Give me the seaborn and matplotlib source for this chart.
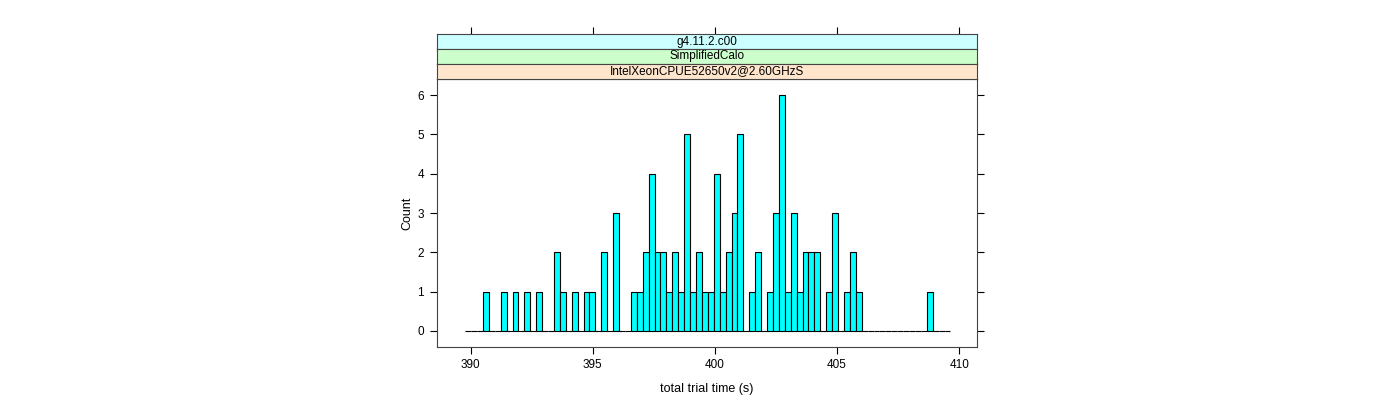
import numpy as np
import pandas as pd
import matplotlib
matplotlib.use("Agg")
import matplotlib.pyplot as plt
import seaborn as sns

# bar positions (s), with their counts
trial_times = [390.62, 391.35, 391.83, 392.32, 392.80, 393.53, 393.77, 394.26,
               394.74, 394.99, 395.47, 395.95, 396.68, 396.92, 397.17, 397.41,
               397.65, 397.89, 398.14, 398.38, 398.62, 398.86, 399.10, 399.35,
               399.59, 399.83, 400.07, 400.32, 400.56, 400.80, 401.04, 401.53,
               401.77, 402.25, 402.50, 402.74, 402.98, 403.22, 403.47, 403.71,
               403.95, 404.19, 404.68, 404.92, 405.40, 405.65, 405.89, 408.80]
trial_counts = [1, 1, 1, 1, 1, 2, 1, 1,
                1, 1, 2, 3, 1, 1, 2, 4,
                2, 2, 1, 2, 1, 5, 1, 2,
                1, 1, 4, 1, 2, 3, 5, 1,
                2, 1, 3, 6, 1, 3, 1, 2,
                2, 2, 1, 3, 1, 2, 1, 1]
bin_lo, bin_hi, n_bins = 389.775, 409.644, 82

strip_labels = ["g4.11.2.c00", "SimplifiedCalo", "IntelXeonCPUE52650v2@2.60GHzS"]
strip_colors = ["#ccffff", "#ccffcc", "#ffe5cc"]

sns.set_style("white")
plt.rcParams['font.family'] = ['Liberation Sans', 'DejaVu Sans']
plt.rcParams['text.color'] = 'black'
plt.rcParams['axes.labelcolor'] = 'black'

W, H = 1400, 400
fig = plt.figure(figsize=(14, 4), dpi=100)

left, right = 436.5, 977
top, bottom = 79, 347
ax = fig.add_axes([left / W, (H - bottom) / H, (right - left) / W, (bottom - top) / H])

df = pd.DataFrame({"time": trial_times, "n": trial_counts})
sns.histplot(data=df, x="time", weights="n", bins=n_bins, binrange=(bin_lo, bin_hi),
             color="#00ffff", edgecolor="black", linewidth=0.8, alpha=1, ax=ax)

ax.set_xlim(388.6, 410.73)
ax.set_ylim(-0.407, 6.407)
ax.set_xticks([390, 395, 400, 405, 410])
ax.set_yticks(range(0, 7))
ax.tick_params(axis="both", direction="out", length=5, width=0.8, labelsize=8.5,
               colors="black", pad=4)
ax.tick_params(axis="y", right=True, left=True)
ax.tick_params(axis="x", bottom=True, top=False)
for s in ax.spines.values():
    s.set_color("#444444")
    s.set_linewidth(0.8)
ax.set_xlabel("total trial time (s)", fontsize=9, labelpad=8)
ax.set_ylabel("Count", fontsize=9, labelpad=3)

# strips stacked above the panel, top one carries the top ticks
strip_h = 15
for i, (lab, col) in enumerate(zip(strip_labels, strip_colors)):
    y_top = top - strip_h * (len(strip_labels) - i)
    sax = fig.add_axes([left / W, (H - y_top - strip_h) / H,
                        (right - left) / W, strip_h / H])
    sax.set_facecolor(col)
    sax.set_xlim(ax.get_xlim())
    sax.set_yticks([])
    if i == 0:
        sax.set_xticks([390, 395, 400, 405, 410])
        sax.tick_params(axis="x", bottom=False, top=True, labelbottom=False,
                        direction="out", length=5, width=0.8, colors="black")
    else:
        sax.set_xticks([])
    for s in sax.spines.values():
        s.set_color("#444444")
        s.set_linewidth(0.8)
    sax.text(0.5, 0.5, lab, transform=sax.transAxes, ha="center", va="center",
             fontsize=8.5, color="black")

fig.savefig("out.png", dpi=100)
